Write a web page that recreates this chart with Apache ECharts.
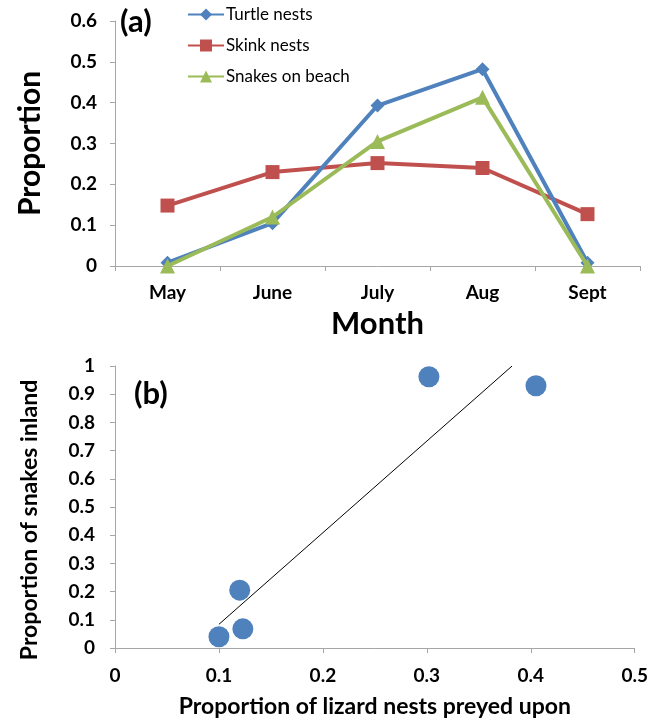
<!DOCTYPE html>
<html><head><meta charset="utf-8">
<script src="https://cdn.jsdelivr.net/npm/echarts@6/dist/echarts.min.js"></script>
<style>html,body{margin:0;padding:0;background:#fff}#c{width:651px;height:721px}</style>
</head><body><div id="c"></div>
<script>
const months = ['May', 'June', 'July', 'Aug', 'Sept'];
const turtleNests = [0.008, 0.105, 0.393, 0.482, 0.008];
const skinkNests = [0.148, 0.230, 0.252, 0.240, 0.127];
const snakesOnBeach = [0.0, 0.120, 0.305, 0.413, 0.0];

const lizardNestsPreyed = [0.100, 0.120, 0.123, 0.302, 0.405];
const snakesInland = [0.040, 0.205, 0.068, 0.962, 0.930];
const trendX = [0.100, 0.382];
const trendY = [0.084, 1.0];

const F = 'Lato, "Open Sans", sans-serif';
const blue = '#4F81BD', red = '#C0504D', green = '#9BBB59';
const axisLine = {lineStyle: {color: '#a6a6a6', width: 1}};
const tickStyle = {show: true, length: 5, lineStyle: {color: '#a6a6a6'}};
const lbl = {color: '#000', fontFamily: F, fontWeight: 'bold', fontSize: 19};

const chart = echarts.init(document.getElementById('c'));
chart.setOption({
  animation: false,
  backgroundColor: '#fff',
  textStyle: {fontFamily: F},
  legend: {
    orient: 'vertical', left: 182, top: 1, itemWidth: 36, itemHeight: 15, itemGap: 14,
    textStyle: {fontFamily: F, fontSize: 17, color: '#000', padding: [0, 0, 0, -3]},
    data: ['Turtle nests', 'Skink nests', 'Snakes on beach']
  },
  graphic: [
    {type: 'text', left: 120, top: 6, style: {text: '(a)', font: 'bold 31px ' + F, fill: '#000'}},
    {type: 'text', left: 134, top: 378, style: {text: '(b)', font: 'bold 31px ' + F, fill: '#000'}}
  ],
  grid: [
    {left: 115, top: 21, right: 11, height: 245},
    {left: 115, top: 366, right: 11, height: 282}
  ],
  xAxis: [
    {gridIndex: 0, type: 'category', data: months, boundaryGap: true,
     axisLine: axisLine, axisTick: tickStyle, axisLabel: Object.assign({margin: 17}, lbl),
     name: 'Month', nameLocation: 'middle', nameGap: 42,
     nameTextStyle: {fontFamily: F, fontWeight: 'bold', fontSize: 31, color: '#000'}},
    {gridIndex: 1, type: 'value', min: 0, max: 0.5, interval: 0.1,
     axisLine: Object.assign({show: true}, axisLine), axisTick: tickStyle, splitLine: {show: false},
     axisLabel: Object.assign({margin: 18}, lbl),
     name: 'Proportion of lizard nests preyed upon', nameLocation: 'middle', nameGap: 47,
     nameTextStyle: {fontFamily: F, fontWeight: 'bold', fontSize: 23, color: '#000'}}
  ],
  yAxis: [
    {gridIndex: 0, type: 'value', min: 0, max: 0.6, interval: 0.1,
     axisLine: Object.assign({show: true}, axisLine), axisTick: tickStyle, splitLine: {show: false},
     axisLabel: Object.assign({margin: 18}, lbl),
     name: 'Proportion', nameLocation: 'middle', nameGap: 70,
     nameTextStyle: {fontFamily: F, fontWeight: 'bold', fontSize: 30, color: '#000'}},
    {gridIndex: 1, type: 'value', min: 0, max: 1, interval: 0.1,
     axisLine: Object.assign({show: true}, axisLine), axisTick: tickStyle, splitLine: {show: false},
     axisLabel: Object.assign({margin: 20}, lbl),
     name: 'Proportion of snakes inland', nameLocation: 'middle', nameGap: 74,
     nameTextStyle: {fontFamily: F, fontWeight: 'bold', fontSize: 23, color: '#000', padding: [0, 26, 0, 0]}}
  ],
  series: [
    {name: 'Turtle nests', type: 'line', xAxisIndex: 0, yAxisIndex: 0, data: turtleNests,
     symbol: 'diamond', symbolSize: 14, lineStyle: {color: blue, width: 4},
     itemStyle: {color: blue, opacity: 1}, z: 3},
    {name: 'Skink nests', type: 'line', xAxisIndex: 0, yAxisIndex: 0, data: skinkNests,
     symbol: 'rect', symbolSize: 14, lineStyle: {color: red, width: 4},
     itemStyle: {color: red, opacity: 1}, z: 2},
    {name: 'Snakes on beach', type: 'line', xAxisIndex: 0, yAxisIndex: 0, data: snakesOnBeach,
     symbol: 'triangle', symbolSize: 15, lineStyle: {color: green, width: 4},
     itemStyle: {color: green, opacity: 1}, z: 4},
    {name: 'scatter', type: 'scatter', xAxisIndex: 1, yAxisIndex: 1,
     data: lizardNestsPreyed.map((x, i) => [x, snakesInland[i]]),
     symbol: 'circle', symbolSize: 21, itemStyle: {color: blue, opacity: 1}},
    {name: 'trend', type: 'line', xAxisIndex: 1, yAxisIndex: 1,
     data: trendX.map((x, i) => [x, trendY[i]]), symbol: 'none',
     lineStyle: {color: '#000', width: 1}}
  ]
});
</script></body></html>
